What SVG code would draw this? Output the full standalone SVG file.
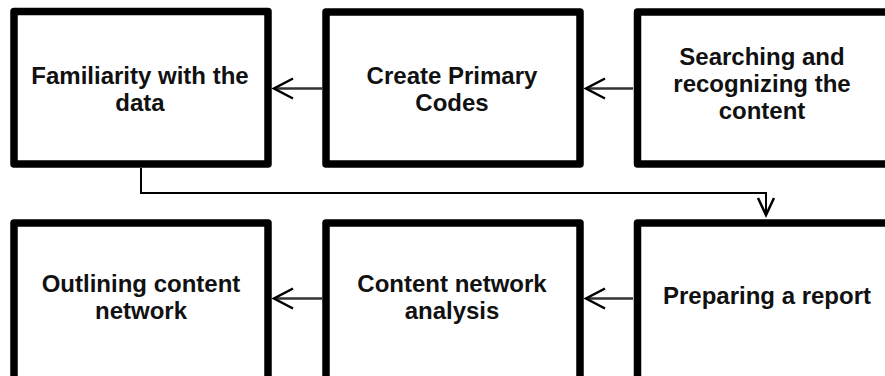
<svg xmlns="http://www.w3.org/2000/svg" width="885" height="376" viewBox="0 0 885 376">
<style>
.box{fill:#fff;stroke:#000;stroke-width:7.5;stroke-linejoin:round}
.lbl{font-family:"Liberation Sans",Arial,sans-serif;font-weight:bold;font-size:24px;fill:#111;text-anchor:middle}
.conn{fill:none;stroke:#333;stroke-width:2.5}
.flow{fill:none;stroke:#000;stroke-width:2}
</style>
<defs>
<marker id="arr" markerUnits="userSpaceOnUse" refX="0" refY="0" markerWidth="30" markerHeight="30" orient="auto" overflow="visible">
<path d="M-19,-10 L0,0 L-19,10" fill="none" stroke="#000" stroke-width="2.5"/>
</marker>
<marker id="arr2" markerUnits="userSpaceOnUse" refX="0" refY="0" markerWidth="30" markerHeight="30" orient="auto" overflow="visible">
<path d="M-17,-8 L0,0 L-17,8" fill="none" stroke="#000" stroke-width="2.5"/>
</marker>
</defs>
<g id="connectors">
<line class="conn" x1="322" y1="88.5" x2="274" y2="88.5" marker-end="url(#arr)"/>
<line class="conn" x1="633" y1="88.5" x2="586" y2="88.5" marker-end="url(#arr)"/>
<line class="conn" x1="322" y1="298.5" x2="274" y2="298.5" marker-end="url(#arr)"/>
<line class="conn" x1="633" y1="298.5" x2="586" y2="298.5" marker-end="url(#arr)"/>
<path class="flow" d="M141,168 V193 H766 V215" marker-end="url(#arr2)"/>
</g>
<g id="node-familiarity">
<rect class="box" x="14" y="11.5" width="254" height="152.5"/>
<text class="lbl" x="140" y="84">Familiarity with the</text>
<text class="lbl" x="140" y="111">data</text>
</g>
<g id="node-primary-codes">
<rect class="box" x="326" y="12" width="254" height="152"/>
<text class="lbl" x="452" y="84">Create Primary</text>
<text class="lbl" x="452" y="111">Codes</text>
</g>
<g id="node-searching">
<rect class="box" x="637.5" y="12" width="254" height="152"/>
<text class="lbl" x="762" y="65">Searching and</text>
<text class="lbl" x="762" y="92">recognizing the</text>
<text class="lbl" x="762" y="119">content</text>
</g>
<g id="node-outlining">
<rect class="box" x="14" y="223" width="254" height="160"/>
<text class="lbl" x="141" y="292">Outlining content</text>
<text class="lbl" x="141" y="319">network</text>
</g>
<g id="node-analysis">
<rect class="box" x="326" y="223" width="254" height="160"/>
<text class="lbl" x="452" y="292">Content network</text>
<text class="lbl" x="452" y="319">analysis</text>
</g>
<g id="node-report">
<rect class="box" x="637.5" y="223" width="254" height="160"/>
<text class="lbl" x="767" y="304">Preparing a report</text>
</g>
</svg>
